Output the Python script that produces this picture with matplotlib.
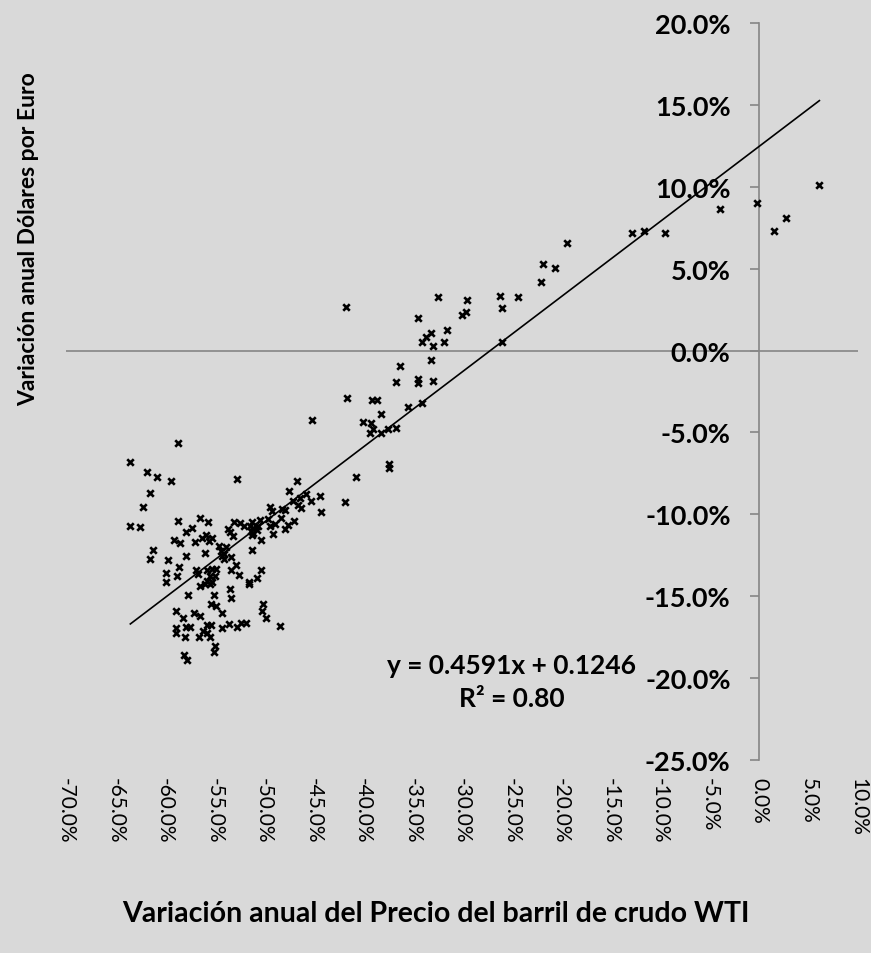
import matplotlib
matplotlib.use("Agg")
import matplotlib.pyplot as plt
import numpy as np

# variación anual del WTI (%) -> eje x
wti_change = [
    -58.7, -63.5, -61.8, -60.8, -59.4, -61.5, -62.2, -63.5, -62.5, -58.7,
    -56.5, -55.7, -57.3, -57.9, -59.1, -58.5, -57.0, -56.3, -55.9, -55.6,
    -55.3, -61.2, -61.5, -59.7, -56.0, -57.9, -54.5, -54.3, -58.6, -59.9,
    -58.8, -59.9, -56.9, -56.7, -55.8, -55.3, -54.8, -55.5, -54.9, -55.8,
    -55.3, -56.0, -56.5, -55.5,
    -57.7, -55.1, -58.9, -58.2, -57.1, -56.5, -55.4, -54.8, -54.2, -58.9,
    -58.9, -57.9, -57.5, -58.0, -56.6, -56.2, -55.8, -55.8, -55.4, -55.5,
    -54.2, -54.9, -55.1, -58.1, -57.8,
    -53.4, -53.3, -51.5, -50.1, -50.2, -49.8, -48.4, -53.5, -52.7, -52.3, -51.8,
    -45.2, -52.7, -46.7, -47.5, -44.3, -45.8, -46.4, -47.1, -45.3, -44.2,
    -46.6, -46.3, -49.4, -49.2, -48.2, -47.9, -48.3, -50.4, -49.6, -47.0,
    -47.6, -47.9, -48.9, -49.4, -49.1, -50.3,
    -51.2, -51.4, -51.1, -51.3, -50.7, -50.6, -52.4, -52.0, -53.0, -53.6,
    -53.4, -53.1, -51.2, -51.1, -51.2, -53.3, -54.0, -54.2, -52.8, -53.3,
    -52.5, -50.3, -50.7, -51.5, -53.8, -54.0,
    -40.0, -39.2, -39.0, -39.3, -38.2, -37.5, -36.7, -37.4, -37.4, -40.7, -41.8,
    -41.7, -32.4, -29.5, -26.2, -24.3, -22.0, -34.4, -30.0, -29.6, -26.0,
    -31.5, -33.1, -33.6, -34.0, -32.9, -31.8, -26.0, -33.1, -36.3, -36.7,
    -34.4, -34.4, -32.9, -41.6, -39.1, -38.6, -38.2, -35.5, -34.0,
    -21.8, -20.6, -19.4, -12.8, -11.6, -9.5, -3.9, -0.2, 1.5, 2.7, 6.1,
]

# variación anual dólares por euro (%) -> eje y
usd_eur_change = [
    -5.65, -6.83, -7.44, -7.73, -7.99, -8.72, -9.53, -10.73, -10.77, -10.41,
    -10.20, -10.47, -10.84, -11.10, -11.54, -11.77, -11.71, -11.42, -11.28, -11.60,
    -11.45, -12.15, -12.73, -12.79, -12.34, -12.52, -11.93, -12.24, -13.19, -13.60,
    -13.76, -14.13, -13.40, -13.66, -13.40, -13.31, -13.35, -13.76, -13.76, -14.07,
    -14.13, -14.27, -14.37, -14.27,
    -14.94, -14.92, -15.90, -16.30, -16.02, -16.20, -15.45, -15.59, -16.02, -16.97,
    -17.26, -16.89, -16.89, -17.48, -17.48, -17.12, -17.27, -16.75, -16.75, -17.48,
    -16.91, -18.03, -18.43, -18.60, -18.90,
    -14.53, -15.08, -14.27, -15.49, -15.90, -16.34, -16.81, -16.71, -16.89, -16.66, -16.63,
    -4.21, -7.82, -7.99, -8.58, -8.86, -8.78, -9.02, -9.21, -9.19, -9.84,
    -9.45, -9.62, -9.53, -9.80, -9.68, -9.71, -10.24, -10.37, -10.30, -10.41,
    -10.65, -10.87, -10.61, -10.71, -11.22, -11.54,
    -10.45, -10.71, -10.81, -11.02, -10.96, -10.71, -10.55, -10.71, -10.47, -10.87,
    -11.08, -11.32, -11.28, -11.16, -12.15, -12.58, -12.44, -12.56, -13.11, -13.40,
    -13.72, -13.40, -13.86, -14.16, -12.00, -12.70,
    -4.37, -4.41, -4.77, -5.02, -5.02, -4.82, -4.71, -6.91, -7.15, -7.70, -9.25,
    2.66, 3.27, 3.07, 3.35, 3.27, 4.16, 1.99, 2.20, 2.36, 2.60,
    1.24, 1.08, 0.84, 0.55, 0.26, 0.51, 0.55, -0.57, -0.96, -1.95,
    -1.73, -1.97, -1.83, -2.87, -3.03, -3.03, -3.88, -3.46, -3.23,
    5.26, 5.02, 6.54, 7.15, 7.30, 7.15, 8.64, 9.01, 7.30, 8.07, 10.10,
]

# tendencia lineal (en tanto por uno)
slope = 0.4591
intercept = 0.1246
r_squared = 0.80

x_ticks = list(range(-70, 11, 5))
y_ticks = list(range(-25, 21, 5))

bg = "#d9d9d9"
axis_gray = "#868686"

plt.rcParams["font.family"] = ["Lato", "DejaVu Sans"]

fig = plt.figure(figsize=(8.71, 9.54), dpi=100, facecolor=bg)
ax = fig.add_axes([66 / 871, 1 - 761 / 954, 792 / 871, 737 / 954])
ax.set_facecolor(bg)
ax.set_xlim(-70, 10)
ax.set_ylim(-25, 20)

ax.scatter(wti_change, usd_eur_change, marker="x", s=22, c="black",
           linewidths=1.9, zorder=3)

xs = np.array([min(wti_change), max(wti_change)])
ax.plot(xs, slope * xs + intercept * 100, color="black", lw=1.2, zorder=4)

ax.axhline(0, color=axis_gray, lw=1.2, zorder=1)
for side in ["top", "right", "bottom"]:
    ax.spines[side].set_visible(False)
ax.spines["left"].set_position(("data", 0))
ax.spines["left"].set_color(axis_gray)
ax.spines["left"].set_linewidth(1.2)

ax.set_yticks(y_ticks, labels=[f"{v:.1f}%" for v in y_ticks])
ax.tick_params(axis="y", direction="out", length=6.5, width=1.2,
               color=axis_gray, pad=14, labelsize=19.5)
for lab in ax.get_yticklabels():
    lab.set_fontweight("bold")

ax.set_xticks(x_ticks, labels=[f"{v:.1f}%" for v in x_ticks],
              rotation=-90, va="top", ha="center")
ax.tick_params(axis="x", length=0, pad=12, labelsize=15)

ax.text(-25.0, -20.2, f"y = {slope:.4f}x + {intercept:.4f}\nR² = {r_squared:.2f}",
        ha="center", va="center", fontsize=19, fontweight="bold",
        linespacing=1.45, zorder=5)

fig.text(29 / 871, 1 - 239 / 954, "Variación anual Dólares por Euro",
         rotation=90, ha="center", va="center", fontsize=16.5, fontweight="bold")
fig.text(436 / 871, 1 - 914 / 954,
         "Variación anual del Precio del barril de crudo WTI",
         ha="center", va="center", fontsize=20.5, fontweight="bold")

fig.savefig("out.png", dpi=100, facecolor=bg)
